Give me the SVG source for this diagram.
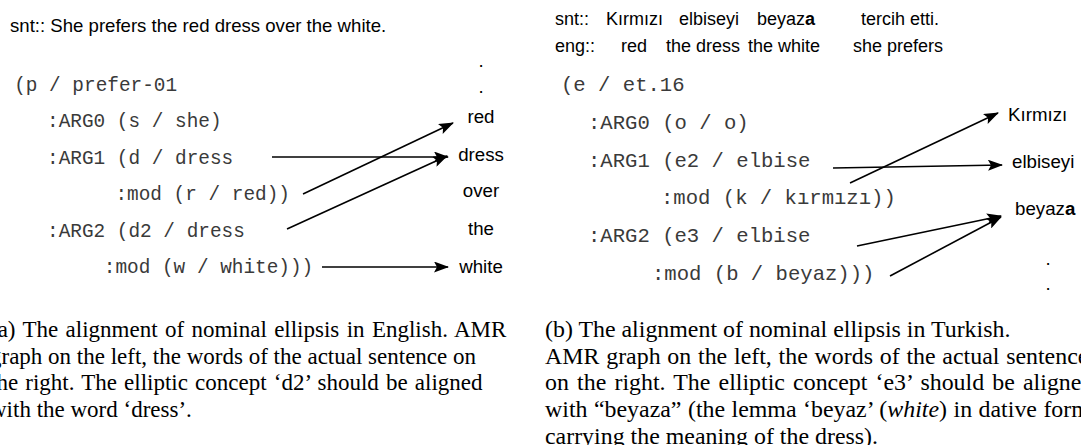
<svg xmlns="http://www.w3.org/2000/svg" width="1081" height="445" viewBox="0 0 1081 445">
<style>
.sans{font-family:"Liberation Sans",Arial,sans-serif;font-size:18.7px;fill:#000}
.top{font-size:18px}
.mid{text-anchor:middle}
.monoL{font-family:"Liberation Mono","Courier New",monospace;font-size:19.4px;fill:#3a3a3a;white-space:pre}
.monoR{font-family:"Liberation Mono","Courier New",monospace;font-size:20.6px;fill:#3a3a3a;white-space:pre}
.cap{font-family:"Liberation Serif","Times New Roman",serif;font-size:23px;fill:#000}
.capR{font-family:"Liberation Serif","Times New Roman",serif;font-size:23.9px;fill:#000}
.conn{stroke:#000;stroke-width:1.6;fill:none;marker-end:url(#ah)}
</style>
<defs>
<marker id="ah" viewBox="0 0 15 11" refX="14" refY="5.5" markerWidth="15" markerHeight="11" markerUnits="userSpaceOnUse" orient="auto">
<path d="M0,0 L15,5.5 L0,11 L3,5.5 z" fill="#000"/>
</marker>
</defs>
<rect width="1081" height="445" fill="#fff"/>

<g id="left-panel">
<text id="snt-en" class="sans" x="10" y="32" style="font-size:18.6px">snt:: She prefers the red dress over the white.</text>
<g id="amr-en">
<text id="p" class="monoL" x="14.2" y="91">(p / prefer-01</text>
<text id="s" class="monoL" x="47" y="127.4">:ARG0 (s / she)</text>
<text id="d" class="monoL" x="47" y="163.8">:ARG1 (d / dress</text>
<text id="r" class="monoL" x="115.4" y="200.2">:mod (r / red))</text>
<text id="d2" class="monoL" x="47" y="236.6">:ARG2 (d2 / dress</text>
<text id="w" class="monoL" x="103.8" y="273">:mod (w / white)))</text>
</g>
<g id="words-en">
<text class="sans mid" x="481" y="67">.</text>
<text class="sans mid" x="481" y="93">.</text>
<text id="w-red" class="sans mid" x="481" y="123">red</text>
<text id="w-dress" class="sans mid" x="481" y="161">dress</text>
<text id="w-over" class="sans mid" x="481" y="197">over</text>
<text id="w-the" class="sans mid" x="481" y="235">the</text>
<text id="w-white" class="sans mid" x="481" y="273">white</text>
</g>
<g id="caption-a">
<text class="cap" x="-10" y="337" style="word-spacing:1.6px">(a) The alignment of nominal ellipsis in English. AMR</text>
<text class="cap" x="-10" y="363.7">graph on the left, the words of the actual sentence on</text>
<text class="cap" x="-10" y="390.4" style="word-spacing:1.4px">the right. The elliptic concept ‘d2’ should be aligned</text>
<text class="cap" x="-10" y="417">with the word ‘dress’.</text>
</g>
</g>

<g id="right-panel">
<g id="snt-tr">
<text class="sans top" x="555" y="25">snt::</text>
<text class="sans top" x="606" y="25">Kırmızı</text>
<text class="sans top" x="679" y="25">elbiseyi</text>
<text class="sans top" x="757" y="25">beyaz<tspan font-weight="bold">a</tspan></text>
<text class="sans top" x="861" y="25">tercih etti.</text>
</g>
<g id="eng-tr">
<text class="sans top" x="555" y="51.5">eng::</text>
<text class="sans top" x="621" y="51.5">red</text>
<text class="sans top" x="666" y="51.5">the dress</text>
<text class="sans top" x="748" y="51.5">the white</text>
<text class="sans top" x="853" y="51.5">she prefers</text>
</g>
<g id="amr-tr">
<text id="e" class="monoR" x="561" y="91">(e / et.16</text>
<text id="o" class="monoR" x="588" y="128.8">:ARG0 (o / o)</text>
<text id="e2" class="monoR" x="588" y="166.6">:ARG1 (e2 / elbise</text>
<text id="k" class="monoR" x="661" y="204.4">:mod (k / kırmızı))</text>
<text id="e3" class="monoR" x="588" y="242.2">:ARG2 (e3 / elbise</text>
<text id="b" class="monoR" x="652" y="280">:mod (b / beyaz)))</text>
</g>
<g id="words-tr">
<text id="w-kirmizi" class="sans" x="1008" y="121">Kırmızı</text>
<text id="w-elbiseyi" class="sans" x="1012" y="168">elbiseyi</text>
<text id="w-beyaza" class="sans" x="1015" y="215">beyaz<tspan font-weight="bold">a</tspan></text>
<text class="sans mid" x="1048" y="265">.</text>
<text class="sans mid" x="1048" y="290">.</text>
</g>
<g id="caption-b">
<text class="capR" x="545" y="337">(b) The alignment of nominal ellipsis in Turkish.</text>
<text class="capR" x="545" y="363.7" style="word-spacing:0.8px">AMR graph on the left, the words of the actual sentence</text>
<text class="capR" x="545" y="390.4" style="word-spacing:2.2px">on the right. The elliptic concept ‘e3’ should be aligned</text>
<text class="capR" x="545" y="417" style="word-spacing:0.5px">with “beyaza” (the lemma ‘beyaz’ (<tspan font-style="italic">white</tspan>) in dative form</text>
<text class="capR" x="545" y="443.7">carrying the meaning of the dress).</text>
</g>
</g>

<g id="connectors">
<path class="conn" d="M272,157 L448,157"/>
<path class="conn" d="M303,194 L453,123"/>
<path class="conn" d="M287,229 L447,156"/>
<path class="conn" d="M322,267 L448,267"/>
<path class="conn" d="M833,168 L1002,165"/>
<path class="conn" d="M850,183 L998,113"/>
<path class="conn" d="M857,246 L1001,216"/>
<path class="conn" d="M890,276 L1001,217"/>
</g>
</svg>
